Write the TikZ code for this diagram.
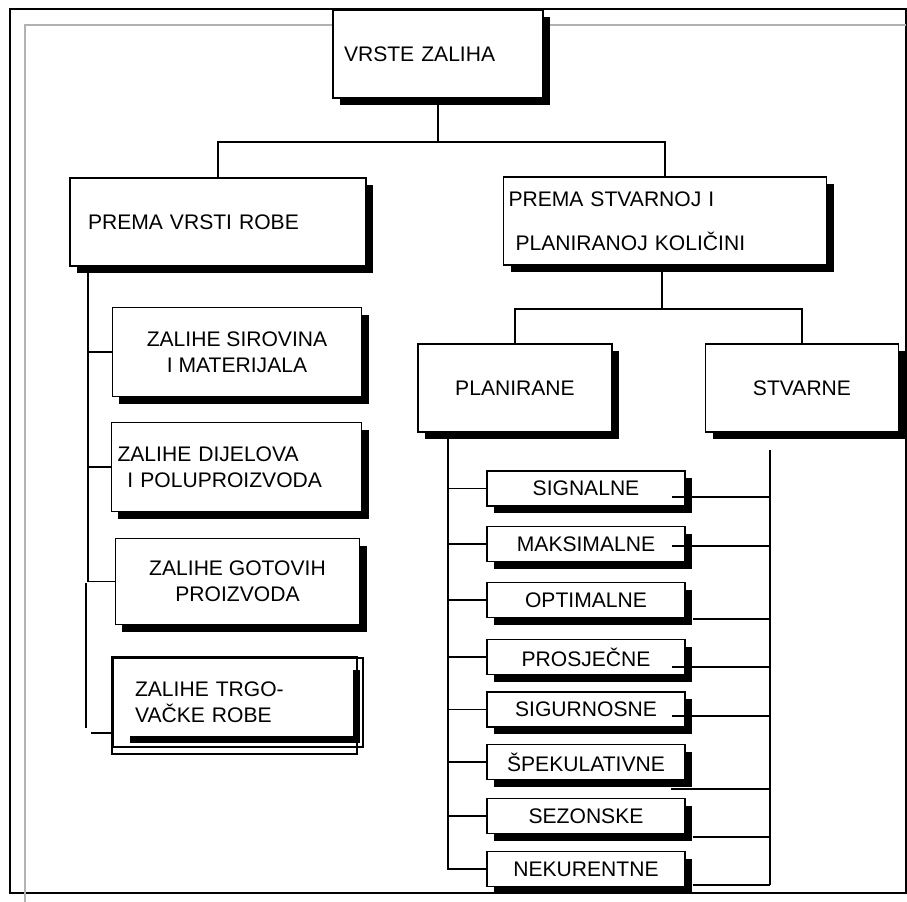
\documentclass[tikz,border=0pt]{standalone}
\usepackage{fontspec}
\setmainfont{Liberation Sans}
\usetikzlibrary{shadows}

\begin{document}
\begin{tikzpicture}[x=0.02cm,y=-0.02cm,
    plain/.style={draw,fill=white,line width=1pt,inner sep=0pt,
      font=\fontsize{12}{14.8}\selectfont,align=center},
    box/.style={plain,drop shadow={shadow xshift=0.14cm,shadow yshift=-0.15cm,fill=black,opacity=1}},
    sbox/.style={box,minimum width=198*0.02cm,minimum height=35*0.02cm},
    conn/.style={line width=1.1pt}]
    \useasboundingbox (0,0) rectangle (907,902);
    % Frame
    \draw[line width=1.1pt] (10,9) rectangle (906,893);
    \draw[gray!60,line width=1.2pt] (25,902) -- (25,25) -- (906,25);
    % Upper boxes
    \node[box,minimum width=210*0.02cm,minimum height=88*0.02cm,text width=188*0.02cm,inner xsep=0.22cm,align=left] (vz) at (438,54) {VRSTE ZALIHA};
    \node[box,minimum width=296*0.02cm,minimum height=88*0.02cm,text width=260*0.02cm,inner xsep=0.36cm,align=left] (pvr) at (218,222) {PREMA VRSTI ROBE};
    \node[box,minimum width=323*0.02cm,minimum height=88*0.02cm,text width=313*0.02cm,inner xsep=0.1cm,align=left,font=\fontsize{12}{25}\selectfont] (psk) at (665,221) {PREMA STVARNOJ I\\\hspace*{0.14cm}PLANIRANOJ KOLIČINI};
    \node[box,minimum width=194*0.02cm,minimum height=88*0.02cm] (pl) at (515,388) {PLANIRANE};
    \node[box,minimum width=193*0.02cm,minimum height=88*0.02cm] (st) at (802,388) {STVARNE};
    % Left column
    \node[box,minimum width=249*0.02cm,minimum height=89*0.02cm] (zs) at (237,352) {ZALIHE SIROVINA\\I MATERIJALA};
    \node[box,minimum width=250*0.02cm,minimum height=89*0.02cm,text width=238*0.02cm,inner xsep=0.12cm,align=left] (zd) at (236.5,467) {ZALIHE DIJELOVA\\\hspace*{0.2cm}I POLUPROIZVODA};
    \node[box,minimum width=244*0.02cm,minimum height=86*0.02cm] (zg) at (237.5,581.5) {ZALIHE GOTOVIH\\PROIZVODA};
    \node[plain,minimum width=250*0.02cm,minimum height=89*0.02cm,text width=206*0.02cm,inner xsep=0.44cm,align=left] (zt) at (238,702.5) {ZALIHE TRGO-\\VAČKE ROBE};
    \draw[line width=1pt] (zt.north west) rectangle ++(245,97);
    \fill (353,670) rectangle (360,743);
    \fill (130,736) rectangle (360,743);
    % Right column
    \foreach \n/\y/\t in {sig/488.5/SIGNALNE,mak/544/MAKSIMALNE,opt/600/OPTIMALNE,pro/657/PROSJEČNE,
        sgr/709.5/SIGURNOSNE,spe/762/ŠPEKULATIVNE,sez/816/SEZONSKE,nek/869/NEKURENTNE}
      \node[sbox] (\n) at (586,\y) {\t};
    % Connectors
    \coordinate (j1) at (438,142);
    \draw[conn] (vz.south) -- (j1);
    \draw[conn] (pvr.north) |- (j1) -| (psk.north);
    \coordinate (j2) at (662,309);
    \draw[conn] (psk.south -| j2) -- (j2);
    \draw[conn] (pl.north) |- (j2) -| (st.north);
    \coordinate (lt) at (88,0);
    \draw[conn] (pvr.south -| lt) |- (zg.west);
    \foreach \n in {zs,zd}
      \draw[conn] (\n.west) -- (\n.west -| lt);
    \coordinate (lb1) at (86,583);
    \coordinate (lb2) at (86,728);
    \draw[conn] (lb1) -- (lb2);
    \coordinate (lb3) at (91,733);
    \draw[conn] (lb3) -- (lb3 -| zt.west);
    \coordinate (lp) at (448,0);
    \draw[conn] (pl.south -| lp) |- (nek.west);
    \foreach \n in {sig,mak,opt,pro,sgr,spe,sez}
      \draw[conn] (\n.west) -- (\n.west -| lp);
    \coordinate (rt) at (770,450);
    \coordinate (rb) at (770,885);
    \draw[conn] (rt) -- (rb);
    \foreach \n/\dx/\dy in {sig/-14/8.5,mak/-14/2,opt/7/19,pro/-14/10,sgr/-14/6.5,spe/-15/27,sez/7/21,nek/7/16}
      \draw[conn] ([shift={(\dx,\dy)}]\n.east) coordinate (r\n) -- (r\n -| rt);
\end{tikzpicture}
\end{document}
